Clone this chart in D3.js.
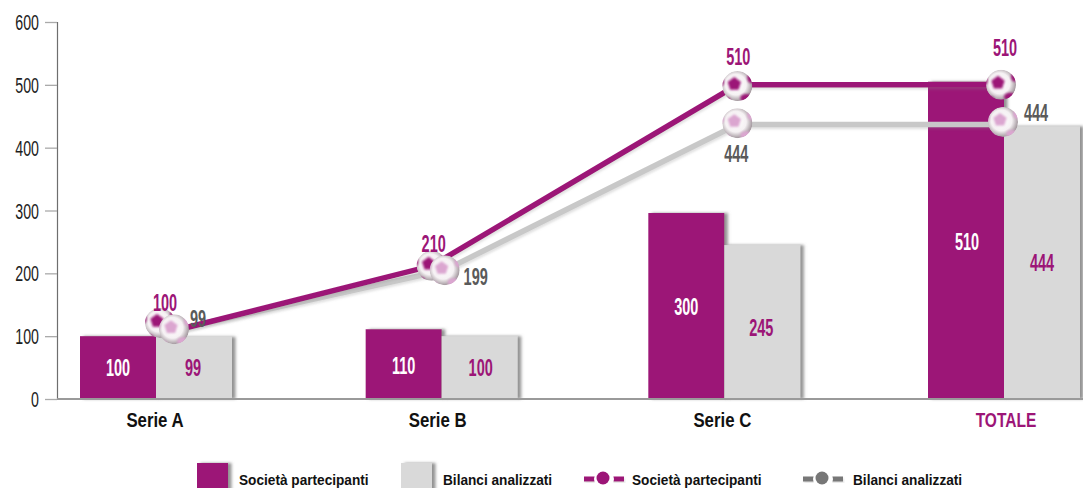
<!DOCTYPE html>
<html><head><meta charset="utf-8">
<script src="https://cdn.jsdelivr.net/npm/d3@7/dist/d3.min.js"></script>
<style>html,body{margin:0;padding:0;background:#fff;overflow:hidden}svg{display:block}text{font-family:"Liberation Sans",Arial,sans-serif}</style>
</head><body><div id="c"></div>
<script>
const categories = ["Serie A","Serie B","Serie C","TOTALE"];
const yTicks = [0,100,200,300,400,500,600];
// bar heights as drawn, and the labels printed on them
const barSocieta = [100,111,296,505];
const barBilanci = [99,100,245,434];
const barSocietaLabels = ["100","110","300","510"];
const barBilanciLabels = ["99","100","245","444"];
// line vertices and ball positions as drawn
const lineSocieta = [103,212,500,500];
const lineBilanci = [110,205,437,437];
const ballSocieta = [121,212,498,500];
const ballBilanci = [111,205,439,441];
const lineSocietaLabels = ["100","210","510","510"];
const lineBilanciLabels = ["99","199","444","444"];
const legendNames = ["Società partecipanti","Bilanci analizzati"];

const W=1083,H=488, PURPLE="#9c1577", BARGREY="#d9d9d9", LINEGREY="#c8c8c8", DARK="#5a5a5a";
const svg=d3.select("#c").append("svg").attr("width",W).attr("height",H);
const x=d3.scalePoint().domain(categories).range([156,1004]);
const y=d3.scaleLinear().domain([0,600]).range([399,22]);
// per-category layout nudges (px)
const barNudge=[0,3,3,0], socNudge=[4,-7,16,-3], bilNudge=[18,6,16,-1];
const barW=76;
const defs=svg.append("defs");
const shadow=defs.append("filter").attr("id","barShadow").attr("x","-20%").attr("y","-20%").attr("width","150%").attr("height","140%");
shadow.append("feDropShadow").attr("dx",3.5).attr("dy",0).attr("stdDeviation",1.6).attr("flood-color","#777").attr("flood-opacity",.8);
const lineSh=defs.append("filter").attr("id","lineShadow").attr("x","-5%").attr("y","-10%").attr("width","110%").attr("height","125%");
lineSh.append("feDropShadow").attr("dx",1).attr("dy",2).attr("stdDeviation",1).attr("flood-color","#888").attr("flood-opacity",.25);
defs.append("filter").attr("id","spotBlur").attr("x","-30%").attr("y","-30%").attr("width","160%").attr("height","160%").append("feGaussianBlur").attr("stdDeviation",1.1);
const grad=defs.append("radialGradient").attr("id","ballGrad").attr("cx","45%").attr("cy","45%").attr("r","56%");
grad.append("stop").attr("offset","0%").attr("stop-color","#fff");
grad.append("stop").attr("offset","62%").attr("stop-color","#f5f1f3");
grad.append("stop").attr("offset","100%").attr("stop-color","#a0959b");
const clip=defs.append("clipPath").attr("id","ballClip");
clip.append("circle").attr("r",15);

function squeeze(sel,sx){ // narrow condensed lettering
  sel.each(function(){
    const t=d3.select(this), px=+t.attr("data-x"), py=+t.attr("data-y");
    t.attr("transform",`translate(${px},${py}) scale(${sx},1)`);
  });
}
function label(g,str,px,py,opt){
  const t=g.append("text").text(str).attr("data-x",px).attr("data-y",py)
    .attr("text-anchor",opt.anchor||"middle").attr("font-size",opt.size)
    .attr("font-weight",opt.weight||"bold").attr("fill",opt.fill);
  squeeze(t,opt.sx);
  return t;
}

// bars
const bars=svg.append("g");
const cx=i=>x(categories[i])+barNudge[i];
bars.selectAll("rect.s").data(barSocieta).join("rect").attr("class","s")
  .attr("x",(d,i)=>cx(i)-barW).attr("y",d=>y(d)).attr("width",barW).attr("height",d=>y(0)-y(d))
  .attr("fill",PURPLE).attr("filter","url(#barShadow)");
bars.selectAll("rect.b").data(barBilanci).join("rect").attr("class","b")
  .attr("x",(d,i)=>cx(i)).attr("y",d=>y(d)).attr("width",barW).attr("height",d=>y(0)-y(d))
  .attr("fill",BARGREY).attr("filter","url(#barShadow)");

// axes
const axisG=svg.append("g").attr("transform","translate(57,0)")
  .call(d3.axisLeft(y).tickValues(yTicks).tickSize(12).tickPadding(4));
axisG.select(".domain").attr("stroke","#6e6e6e").attr("stroke-width",1.2);
axisG.selectAll(".tick line").attr("stroke","#aaaaaa").attr("stroke-width",1.3);
axisG.selectAll(".tick text").each(function(d){
  const t=d3.select(this);
  t.attr("data-x",-18).attr("data-y",7.5).attr("x",null).attr("dy",null).attr("y",null)
   .attr("text-anchor","end").attr("font-size",22.5).attr("fill","#1c1c1c").attr("font-family",'"Liberation Sans"');
}).call(squeeze,.63);
svg.append("line").attr("x1",57).attr("x2",W).attr("y1",y(0)).attr("y2",y(0)).attr("stroke","#9a9a9a").attr("stroke-width",2);

// bar value labels
const bl=svg.append("g");
const barTextNudge=[0,1,0,1], barTextNudge2=[0,0,5,0], barTextX2=[0,2,0,1];
barSocietaLabels.forEach((s,i)=>label(bl,s,cx(i)-barW/2+(i==3?1:0),y(barSocieta[i]/2)+8.5+barTextNudge[i],{size:23,fill:"#fff",sx:.63}));
barBilanciLabels.forEach((s,i)=>label(bl,s,cx(i)+barW/2-1+barTextX2[i],y(barBilanci[i]/2)+8.5+barTextNudge2[i],{size:23,fill:PURPLE,sx:.63}));

// lines
const lineGen=(nudge)=>d3.line().x((d,i)=>x(categories[i])+nudge[i]).y(d=>y(d));
svg.append("path").datum(lineBilanci).attr("d",lineGen(bilNudge)).attr("fill","none").attr("stroke",LINEGREY).attr("stroke-width",5.5).attr("filter","url(#lineShadow)");
svg.append("path").datum(lineSocieta).attr("d",lineGen(socNudge)).attr("fill","none").attr("stroke",PURPLE).attr("stroke-width",5.5).attr("filter","url(#lineShadow)");

// balls
function ball(g,px,py,col){
  const b=g.append("g").attr("transform",`translate(${px},${py})`);
  const c=b.append("g").attr("clip-path","url(#ballClip)");
  c.append("circle").attr("r",15).attr("fill","url(#ballGrad)");
  const spots=c.append("g").attr("filter","url(#spotBlur)").attr("fill",col);
  const pent=d3.range(5).map(k=>{const a=-Math.PI/2+k*2*Math.PI/5;return [7*Math.cos(a),7*Math.sin(a)];});
  spots.append("polygon").attr("points",pent.map(p=>[p[0]-3,p[1]-2].join(",")).join(" "));
  [[14,-8,4,5],[9,12,6,4],[-11,14,4,2.5],[-16,-4,2.5,4]].forEach(s=>
    spots.append("ellipse").attr("cx",s[0]).attr("cy",s[1]).attr("rx",s[2]).attr("ry",s[3]));
}
const balls=svg.append("g");
ballSocieta.forEach((v,i)=>ball(balls,x(categories[i])+socNudge[i],y(v),PURPLE));
ballBilanci.forEach((v,i)=>ball(balls,x(categories[i])+bilNudge[i],y(v),"#dba6d0"));

// point labels
const socLab=[[5,-12],[2,-14],[1,-21],[4,-29]], bilLab=[[24,-2],[31,15],[-1,39],[33,-1]];
const pl=svg.append("g");
lineSocietaLabels.forEach((s,i)=>label(pl,s,x(categories[i])+socNudge[i]+socLab[i][0],y(ballSocieta[i])+socLab[i][1],{size:23,fill:PURPLE,sx:.63}));
lineBilanciLabels.forEach((s,i)=>label(pl,s,x(categories[i])+bilNudge[i]+bilLab[i][0],y(ballBilanci[i])+bilLab[i][1],{size:23,fill:DARK,sx:.63}));

// category labels
const cl=svg.append("g");
const catX=[-1,-1,1,2], catSx=[.8,.8,.8,.74];
categories.forEach((c,i)=>label(cl,c,x(c)+catX[i],427,{size:21,fill:i==3?PURPLE:"#111",sx:catSx[i]}));

// legend
const lg=svg.append("g");
[[197,PURPLE,239],[401,BARGREY,443]].forEach((r,i)=>{
  lg.append("rect").attr("x",r[0]).attr("y",463).attr("width",31).attr("height",30).attr("fill",r[1]).attr("filter","url(#barShadow)");
  label(lg,legendNames[i],r[2],485,{size:15,fill:"#111",sx:.91,anchor:"start"});
});
[[584,PURPLE,604,632,legendNames[0]],[803,"#777",823,853,legendNames[1]]].forEach(r=>{
  lg.append("rect").attr("x",r[0]).attr("width",40).attr("y",476.5).attr("height",5).attr("fill",r[1]).attr("filter","url(#lineShadow)");
  lg.append("circle").attr("cx",r[2]).attr("cy",479).attr("r",10).attr("fill","#fff");
  lg.append("circle").attr("cx",r[2]-1).attr("cy",478).attr("r",6.5).attr("fill",r[1]);
  label(lg,r[4],r[3],485,{size:15,fill:"#111",sx:.91,anchor:"start"});
});
</script></body></html>
